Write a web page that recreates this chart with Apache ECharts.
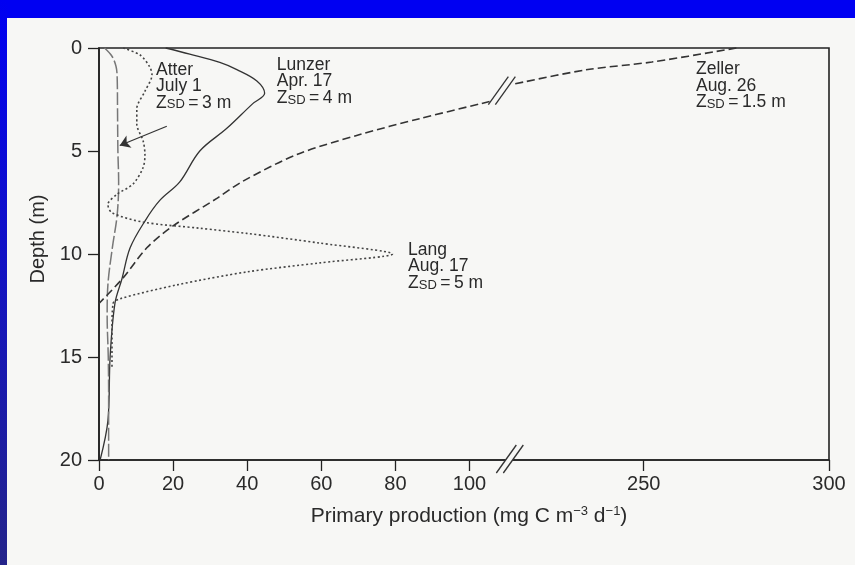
<!DOCTYPE html>
<html><head><meta charset="utf-8">
<script src="https://cdn.jsdelivr.net/npm/echarts@6/dist/echarts.min.js"></script>
<style>html,body{margin:0;padding:0;background:#f7f7f5;} #c{width:855px;height:565px;}</style>
</head><body><div id="c"></div>
<script>
// ---- data ----
const depthTicks = [0, 5, 10, 15, 20];
const prodTicks = [0, 20, 40, 60, 80, 100, 250, 300];
const axisBreak = { start: 111, end: 214 };

const lunzerDepth = [0, 0.3, 0.7, 1.05, 1.6, 2.2, 2.7, 3.9, 5.0, 6.5, 7.4, 8.4, 9.7, 11.2, 12.4, 15.0, 18.1, 20];
const lunzerProd  = [18, 24.5, 32.6, 37.2, 42.6, 44.7, 41.5, 34.5, 27.2, 21.8, 16.4, 12.4, 8.4, 6.2, 4.3, 3.0, 2.4, 0.3];

const atterDepth = [0, 0.4, 0.9, 1.4, 3, 5, 6.5, 8.1, 9.7, 11.5, 13, 15, 17, 20];
const atterProd  = [1.5, 3.5, 4.6, 4.9, 5.0, 5.1, 5.3, 4.9, 3.6, 2.4, 2.2, 2.5, 2.6, 2.6];

const langDepth = [0, 0.34, 0.92, 1.3, 2.1, 2.95, 3.7, 4.5, 5.2, 5.8, 6.6, 7.1, 7.6, 8.0, 8.45, 8.75, 9.0, 9.47, 10.0, 10.43, 10.87, 11.5, 12.17, 12.4, 13.7, 15.5];
const langProd  = [6.5, 11.1, 13.7, 14.3, 12.4, 10.2, 10.2, 11.9, 12.4, 11.9, 9.2, 4.9, 2.4, 3.5, 11.9, 27.2, 39.9, 59.6, 79.2, 59.6, 39.9, 21, 5.7, 3.8, 3.5, 3.5];

// null = the broken part of the Zeller curve
const zellerDepth = [0, 0.68, 1.06, 1.74, null, 2.6, 3.43, 4.2, 5.17, 6.47, 7.3, 8.65, 9.7, 11.16, 12.4];
const zellerProd  = [275, 252.2, 234.4, 215.3, null, 105.4, 86.5, 70.4, 53.4, 38.8, 31.8, 19.9, 12.9, 6.5, 0];

const labelNames = ['Atter', 'Lunzer', 'Zeller', 'Lang'];
const labelDates = ['July 1', 'Apr. 17', 'Aug. 26', 'Aug. 17'];
const labelZsd   = ['3 m', '4 m', '1.5 m', '5 m'];

// annotation layout (data-space anchors of label top-left corners)
const annot = {
  prod:  [15.4, 48.0, 264.1, 83.4],
  depth: [0.66, 0.42, 0.62, 9.40],
  arrowFrom: [18.3, 3.8], arrowTo: [5.6, 4.73]
};

const FONT = '"Liberation Sans", Arial, Helvetica, sans-serif';
const INK = '#2a2a2a';
const PAPER = '#f7f7f5';

function pairs(xs, ys) {
  return ys.map((d, i) => (d === null ? ['-', '-'] : [xs[i], d]));
}

const chart = echarts.init(document.getElementById('c'), null, { renderer: 'canvas' });

const option = {
  animation: false,
  backgroundColor: PAPER,
  grid: { left: 99, right: 26, top: 48, bottom: 105, show: true, borderColor: '#222', borderWidth: 1.6, backgroundColor: 'transparent' },
  xAxis: {
    type: 'value', min: 0, max: 300,
    breaks: [{ start: axisBreak.start, end: axisBreak.end, gap: 0 }],
    breakArea: { show: false },
    axisLine: { show: true, onZero: false, lineStyle: { color: '#222', width: 1.6 } },
    axisTick: { show: true, inside: false, length: 11, customValues: prodTicks, lineStyle: { color: '#222', width: 1.3 } },
    axisLabel: { customValues: prodTicks, fontSize: 20, color: INK, fontFamily: FONT, margin: 14 },
    splitLine: { show: false },
    name: '{n|Primary production (mg C m}{p|\u22123}{n| d}{p|\u22121}{n|)}',
    nameLocation: 'middle', nameGap: 45,
    nameTextStyle: {
      padding: [0, 0, 0, 10],
      rich: {
        n: { fontSize: 21, lineHeight: 22, color: INK, fontFamily: FONT },
        p: { fontSize: 13, lineHeight: 12, color: INK, fontFamily: FONT, verticalAlign: 'top' }
      }
    }
  },
  yAxis: {
    type: 'value', inverse: true, min: 0, max: 20, interval: 5,
    axisLine: { show: true, onZero: false, lineStyle: { color: '#222', width: 1.6 } },
    axisTick: { show: true, inside: false, length: 11, customValues: depthTicks, lineStyle: { color: '#222', width: 1.3 } },
    axisLabel: { customValues: depthTicks, fontSize: 20, color: INK, fontFamily: FONT, margin: 17 },
    splitLine: { show: false },
    name: 'Depth (m)', nameLocation: 'middle', nameGap: 50,
    nameTextStyle: { fontSize: 20, color: INK, fontFamily: FONT, padding: [0, 0, 0, 30] }
  },
  series: [
    {
      name: 'Lunzer', type: 'line', data: pairs(lunzerProd, lunzerDepth),
      smooth: 0.35, symbol: 'none', clip: false,
      lineStyle: { color: '#333', width: 1.3, type: 'solid' }
    },
    {
      name: 'Atter', type: 'line', data: pairs(atterProd, atterDepth),
      smooth: 0.35, symbol: 'none', clip: false,
      lineStyle: { color: '#777', width: 1.5, type: [13, 3] },
      markLine: {
        silent: true, symbol: ['none', 'arrow'], symbolSize: 10,
        label: { show: false },
        lineStyle: { color: '#333', width: 1.2, type: 'solid' },
        data: [[{ coord: annot.arrowFrom }, { coord: annot.arrowTo }]]
      }
    },
    {
      name: 'Lang', type: 'line', data: pairs(langProd, langDepth),
      smooth: 0.3, symbol: 'none', clip: false,
      lineStyle: { color: '#444', width: 1.6, type: [2, 2.5] }
    },
    {
      name: 'Zeller', type: 'line', data: pairs(zellerProd, zellerDepth),
      smooth: 0.3, symbol: 'none', clip: false, connectNulls: false,
      lineStyle: { color: '#333', width: 1.6, type: [8, 4] }
    }
  ]
};

chart.setOption(option);

// ---- decorations: frame bands, break marks, annotations ----
function slashPair(cx, cy, cover) {
  const els = [];
  if (cover) {
    els.push({ type: 'polygon', z: 100, silent: true,
      shape: { points: [[cx - 14, cy + 13], [cx + 6, cy - 15], [cx + 13, cy - 15], [cx - 7, cy + 13]] },
      style: { fill: PAPER } });
  }
  els.push({ type: 'line', z: 101, silent: true, shape: { x1: cx - 14, y1: cy + 13, x2: cx + 6, y2: cy - 15 }, style: { stroke: '#333', lineWidth: 1.3 } });
  els.push({ type: 'line', z: 101, silent: true, shape: { x1: cx - 7, y1: cy + 13, x2: cx + 13, y2: cy - 15 }, style: { stroke: '#333', lineWidth: 1.3 } });
  return els;
}

const graphics = [];
graphics.push({ type: 'rect', z: 200, silent: true, shape: { x: 0, y: 0, width: 855, height: 18 }, style: { fill: '#0000f2' } });
graphics.push({ type: 'rect', z: 200, silent: true, shape: { x: 0, y: 0, width: 7, height: 565 },
  style: { fill: new echarts.graphic.LinearGradient(0, 0, 0, 1, [{ offset: 0, color: '#0000f2' }, { offset: 0.5, color: '#1414c0' }, { offset: 1, color: '#24248a' }]) } });

const bx = chart.convertToPixel({ xAxisIndex: 0 }, axisBreak.start);
const by = chart.convertToPixel({ yAxisIndex: 0 }, 20);
graphics.push(...slashPair(bx, by, true));

const zi = zellerDepth.indexOf(null);
const zA = chart.convertToPixel({ gridIndex: 0 }, [zellerProd[zi - 1], zellerDepth[zi - 1]]);
const zB = chart.convertToPixel({ gridIndex: 0 }, [zellerProd[zi + 1], zellerDepth[zi + 1]]);
graphics.push(...slashPair((zA[0] + zB[0]) / 2, (zA[1] + zB[1]) / 2 - 1, false));

const LH = 16.6;
const rich = {
  n: { fontSize: 17.5, lineHeight: LH, fontFamily: FONT, fill: INK },
  s: { fontSize: 13, lineHeight: 7, fontFamily: FONT, fill: INK, verticalAlign: 'bottom' }
};
labelNames.forEach((nm, i) => {
  const p = chart.convertToPixel({ gridIndex: 0 }, [annot.prod[i], annot.depth[i]]);
  graphics.push({
    type: 'text', z: 120, silent: true, x: p[0], y: p[1],
    style: {
      text: '{n|' + nm + '}\n{n|' + labelDates[i] + '}\n{n|Z}{s|SD}{n|\u2009=\u2009' + labelZsd[i] + '}',
      rich: rich, fill: INK, fontFamily: FONT, fontSize: 17.5,
      align: 'left', verticalAlign: 'top', textAlign: 'left', textVerticalAlign: 'top'
    }
  });
});

chart.setOption({ graphic: graphics });
</script>
</body></html>
